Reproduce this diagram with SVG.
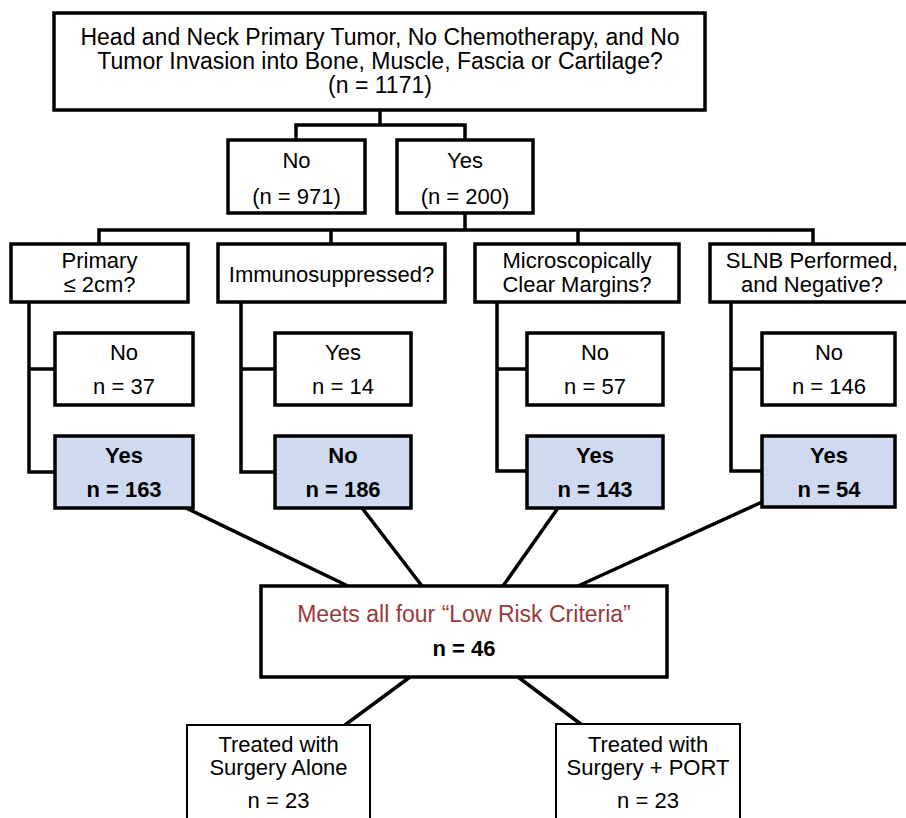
<svg xmlns="http://www.w3.org/2000/svg" width="906" height="818" viewBox="0 0 906 818">
<style>
.box{fill:#fff;stroke:#000;stroke-width:3.5}
.hl{fill:#cfd9ef;stroke:#000;stroke-width:3.5}
.thin{fill:#fff;stroke:#000;stroke-width:2}
.ln{fill:none;stroke:#000;stroke-width:3.5}
text{font-family:"Liberation Sans",Arial,sans-serif;font-size:22px;fill:#000;text-anchor:middle}
.lg{font-size:23px}
.b{font-weight:bold}
.red{fill:#9b3a3a}
</style>
<rect width="906" height="818" fill="#fff"/>
<g id="connectors">
<polyline class="ln" points="380,110 380,125"/>
<polyline class="ln" points="296,140 296,125 465,125 465,140"/>
<polyline class="ln" points="465,213 465,230"/>
<polyline class="ln" points="99,244 99,230 813,230 813,244"/>
<line class="ln" x1="331" y1="230" x2="331" y2="244"/>
<line class="ln" x1="578" y1="230" x2="578" y2="244"/>
<polyline class="ln" points="29,302 29,472 55,472"/>
<line class="ln" x1="29" y1="369" x2="55" y2="369"/>
<polyline class="ln" points="241,302 241,472 275,472"/>
<line class="ln" x1="241" y1="369" x2="275" y2="369"/>
<polyline class="ln" points="497,302 497,471 527,471"/>
<line class="ln" x1="497" y1="369" x2="527" y2="369"/>
<polyline class="ln" points="731,302 731,471 762,471"/>
<line class="ln" x1="731" y1="369" x2="762" y2="369"/>
<line class="ln" x1="186" y1="508" x2="348" y2="586"/>
<line class="ln" x1="362" y1="508" x2="422" y2="586"/>
<line class="ln" x1="558" y1="508" x2="503" y2="586"/>
<line class="ln" x1="762" y1="502" x2="578" y2="586"/>
<line class="ln" x1="410" y1="677" x2="345" y2="725"/>
<line class="ln" x1="518" y1="677" x2="582" y2="725"/>
</g>
<g id="top">
<rect class="box" x="54" y="13" width="651" height="97"/>
<text class="lg" x="380" y="45">Head and Neck Primary Tumor, No Chemotherapy, and No</text>
<text class="lg" x="380" y="69">Tumor Invasion into Bone, Muscle, Fascia or Cartilage?</text>
<text class="lg" x="380" y="93">(n = 1171)</text>
</g>
<g id="no1">
<rect class="box" x="228" y="140" width="137" height="73"/>
<text x="296.5" y="168">No</text>
<text x="296.5" y="204">(n = 971)</text>
</g>
<g id="yes1">
<rect class="box" x="397" y="140" width="136" height="73"/>
<text x="465" y="168">Yes</text>
<text x="465" y="204">(n = 200)</text>
</g>
<g id="primary">
<rect class="box" x="11" y="244" width="177" height="58"/>
<text x="99.5" y="268">Primary</text>
<text x="99.5" y="292">≤ 2cm?</text>
</g>
<g id="immuno">
<rect class="box" x="218" y="244" width="227" height="58"/>
<text x="331.5" y="282">Immunosuppressed?</text>
</g>
<g id="margins">
<rect class="box" x="475" y="244" width="204" height="58"/>
<text x="577" y="268">Microscopically</text>
<text x="577" y="292">Clear Margins?</text>
</g>
<g id="slnb">
<rect class="box" x="710" y="244" width="210" height="58"/>
<text x="812" y="268">SLNB Performed,</text>
<text x="812" y="292">and Negative?</text>
</g>
<g id="primary-no">
<rect class="box" x="55" y="333" width="138" height="72"/>
<text x="124" y="360">No</text>
<text x="124" y="394">n = 37</text>
</g>
<g id="primary-yes">
<rect class="hl" x="55" y="436" width="138" height="72"/>
<text class="b" x="124" y="463">Yes</text>
<text class="b" x="124" y="497">n = 163</text>
</g>
<g id="immuno-yes">
<rect class="box" x="275" y="333" width="136" height="72"/>
<text x="343" y="360">Yes</text>
<text x="343" y="394">n = 14</text>
</g>
<g id="immuno-no">
<rect class="hl" x="275" y="436" width="136" height="72"/>
<text class="b" x="343" y="463">No</text>
<text class="b" x="343" y="497">n = 186</text>
</g>
<g id="margins-no">
<rect class="box" x="527" y="333" width="136" height="72"/>
<text x="595" y="360">No</text>
<text x="595" y="394">n = 57</text>
</g>
<g id="margins-yes">
<rect class="hl" x="527" y="436" width="136" height="72"/>
<text class="b" x="595" y="463">Yes</text>
<text class="b" x="595" y="497">n = 143</text>
</g>
<g id="slnb-no">
<rect class="box" x="762" y="333" width="133" height="72"/>
<text x="829" y="360">No</text>
<text x="829" y="394">n = 146</text>
</g>
<g id="slnb-yes">
<rect class="hl" x="762" y="436" width="133" height="71"/>
<text class="b" x="829" y="463">Yes</text>
<text class="b" x="829" y="497">n = 54</text>
</g>
<g id="lowrisk">
<rect class="box" x="261" y="586" width="406" height="91"/>
<text class="red lg" x="464" y="622">Meets all four “Low Risk Criteria”</text>
<text class="b" x="464" y="656">n = 46</text>
</g>
<g id="surgery-alone">
<rect class="thin" x="187" y="725" width="183" height="110"/>
<text x="278.5" y="752">Treated with</text>
<text x="278.5" y="775">Surgery Alone</text>
<text x="278.5" y="808">n = 23</text>
</g>
<g id="surgery-port">
<rect class="thin" x="556" y="724" width="184" height="110"/>
<text x="648" y="752">Treated with</text>
<text x="648" y="775">Surgery + PORT</text>
<text x="648" y="808">n = 23</text>
</g>
</svg>
